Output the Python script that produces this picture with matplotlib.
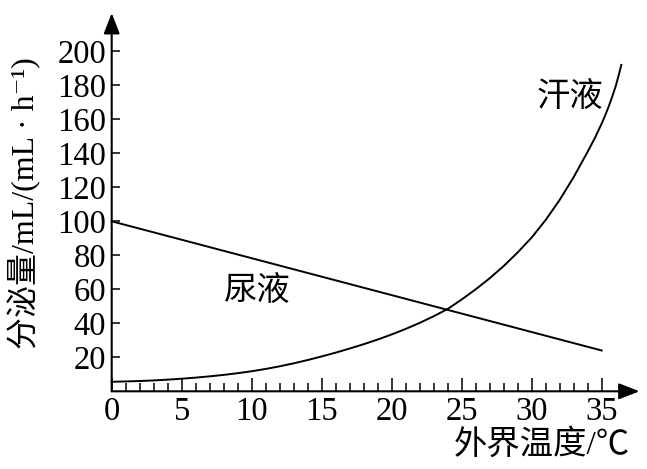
import matplotlib
matplotlib.use("Agg")
import matplotlib.pyplot as plt
from matplotlib.ticker import FixedLocator

plt.rcParams['font.family'] = ['Liberation Serif', 'Noto Sans CJK SC', 'DejaVu Sans']

# Data
temp_urine = [0, 35]
urine = [100, 24]

temp_sweat = [0, 1, 2, 3, 4, 5, 6, 7, 8, 9, 10, 11, 12, 13, 14, 15, 16, 17, 18, 19, 20,
              21, 22, 23, 24, 25, 26, 27, 28, 29, 30, 31, 32, 33, 34, 34.5, 35, 35.25, 35.5,
              35.75, 36, 36.2, 36.4]
sweat = [5.6, 5.8, 6.05, 6.4, 6.85, 7.4, 8.05, 8.8, 9.65, 10.65, 11.8, 13.15, 14.7, 16.45, 18.4,
         20.5, 22.75, 25.15, 27.7, 30.45, 33.45, 36.7, 40.25, 44.15, 48.45, 54.0, 60.0, 66.5,
         73.7, 81.7, 90.5, 100.8, 112.6, 126.0, 141.0, 148.8, 157.5, 162.3, 167.5,
         173.3, 179.5, 185.5, 192.0]

x_ticks = [0, 5, 10, 15, 20, 25, 30, 35]
y_ticks = [20, 40, 60, 80, 100, 120, 140, 160, 180, 200]

fig = plt.figure(figsize=(6.47, 4.69), dpi=100)
ax = fig.add_axes([111.7/647, (469-391.3)/469, 38*14/647, 223*1.7/469])
ax.set_xlim(0, 38)
ax.set_ylim(0, 223)

ax.plot(temp_urine, urine, color='black', lw=1.4, clip_on=False)
ax.plot(temp_sweat, sweat, color='black', lw=1.4, clip_on=False, solid_joinstyle='round')

for s in ax.spines.values():
    s.set_visible(False)

arrow_kw = dict(arrowstyle='-|>,head_length=0.9,head_width=0.35', lw=1.5, color='black',
                shrinkA=0, shrinkB=0, mutation_scale=14)
ax.annotate('', xy=(37.7, 0), xytext=(0, 0), arrowprops=arrow_kw, annotation_clip=False)
ax.annotate('', xy=(0, 222.5), xytext=(0, 0), arrowprops=arrow_kw, annotation_clip=False)

ax.xaxis.set_major_locator(FixedLocator(x_ticks))
ax.xaxis.set_minor_locator(FixedLocator([i for i in range(0, 36) if i % 5 != 0]))
ax.yaxis.set_major_locator(FixedLocator(y_ticks))
ax.tick_params(axis='x', which='major', direction='in', length=9.5, width=1.1, pad=4, labelsize=23.5)
ax.tick_params(axis='x', which='minor', direction='in', length=5.8, width=1.1)
ax.tick_params(axis='y', which='major', direction='in', length=5.8, width=1.1, pad=4, labelsize=23.5)
ax.tick_params(top=False, right=False)

fig.text(24/647, 1 - 203/469, '分泌量/mL/(mL · h⁻¹)', fontsize=23, rotation=90,
         ha='center', va='center',
         family=['Liberation Serif', 'Noto Sans CJK SC', 'DejaVu Serif', 'DejaVu Sans'])

fig.text(630/647, 1 - 445/469, '外界温度/℃', fontsize=24, ha='right', va='center', fontweight='light')

ax.text(10.4, 59, '尿液', fontsize=24, ha='center', va='center', fontweight='light')
ax.text(32.7, 172.8, '汗液', fontsize=24, ha='center', va='center', fontweight='light')

fig.savefig('out.png', dpi=100)
